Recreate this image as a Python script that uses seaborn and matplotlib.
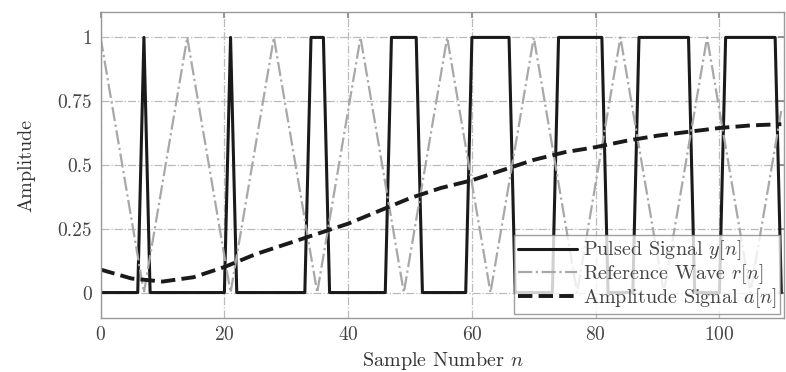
import numpy as np
import matplotlib.pyplot as plt
import seaborn as sns

# Pulsed signal y[n] (vertices of the sampled pulse train)
pulse_n = [0, 6, 7, 8, 20, 21, 22, 33, 34, 36, 37, 46, 47, 51, 52, 59, 60, 66, 67,
           73, 74, 81, 82, 86, 87, 95, 96, 100, 101, 109, 110]
pulse_y = [0, 0, 1, 0, 0, 1, 0, 0, 1, 1, 0, 0, 1, 1, 0, 0, 1, 1, 0,
           0, 1, 1, 0, 0, 1, 1, 0, 0, 1, 1, 0]

# Reference wave r[n] (triangle vertices)
ref_n = [0, 7, 14, 21, 28, 35, 42, 49, 56, 63, 70, 77, 84, 91, 98, 105, 110]
ref_y = [1, 0, 1, 0, 1, 0, 1, 0, 1, 0, 1, 0, 1, 0, 1, 0, 0.714]

# Amplitude signal a[n] (read every 5 samples)
amp_n = [0, 5, 10, 15, 20, 25, 30, 35, 40, 45, 50, 55, 60, 65, 70, 75, 80, 85, 90, 95, 100, 105, 110]
amp_y = [0.09, 0.055, 0.043, 0.06, 0.10, 0.15, 0.19, 0.23, 0.27, 0.32, 0.37, 0.41, 0.44,
         0.48, 0.52, 0.55, 0.57, 0.595, 0.615, 0.63, 0.645, 0.655, 0.66]

xticks = [0, 20, 40, 60, 80, 100]
yticks = [0, 0.25, 0.5, 0.75, 1]
ytick_labels = ['0', '0.25', '0.5', '0.75', '1']

sns.set_theme(style='white')
plt.rcParams['font.family'] = ['cmr10']
plt.rcParams['mathtext.fontset'] = 'cm'
plt.rcParams['axes.formatter.use_mathtext'] = True

fig, ax = plt.subplots(figsize=(7.86, 3.72), dpi=100)
fig.subplots_adjust(left=0.128, right=0.998, bottom=0.145, top=0.968)

sns.lineplot(x=pulse_n, y=pulse_y, ax=ax, color='#1a1a1a', linewidth=2.2,
             estimator=None, sort=False, label=r'Pulsed Signal $y[n]$')
sns.lineplot(x=ref_n, y=ref_y, ax=ax, color='#a8a8a8', linewidth=1.6, linestyle='-.',
             estimator=None, sort=False, label=r'Reference Wave $r[n]$')
sns.lineplot(x=amp_n, y=amp_y, ax=ax, color='#1a1a1a', linewidth=2.8, linestyle='--',
             estimator=None, sort=False, label=r'Amplitude Signal $a[n]$')

ax.set_xlim(0, 110.5)
ax.set_ylim(-0.1, 1.1)
ax.set_xticks(xticks)
ax.set_yticks(yticks)
ax.set_yticklabels(ytick_labels)
ax.tick_params(direction='in', length=4, color='#888888', labelsize=14, labelcolor='#444444',
               top=True, right=True, pad=6)
ax.grid(True, color='#bbbbbb', linestyle='-.', linewidth=0.9)
for s in ax.spines.values():
    s.set_color('#999999')
    s.set_linewidth(1.0)

ax.set_xlabel(r'Sample Number $n$', fontsize=14.5, color='#333333', labelpad=4)
ax.set_ylabel('Amplitude', fontsize=14.5, color='#333333', labelpad=16)

leg = ax.legend(loc='lower right', fontsize=14.5, frameon=True, fancybox=False,
                borderaxespad=0.2, handlelength=2.9, labelspacing=0.0,
                borderpad=0.2, handletextpad=0.3)
leg.get_frame().set_edgecolor('#888888')
leg.get_frame().set_linewidth(1.0)
for t in leg.get_texts():
    t.set_color('#444444')

plt.savefig('out.png', dpi=100)
